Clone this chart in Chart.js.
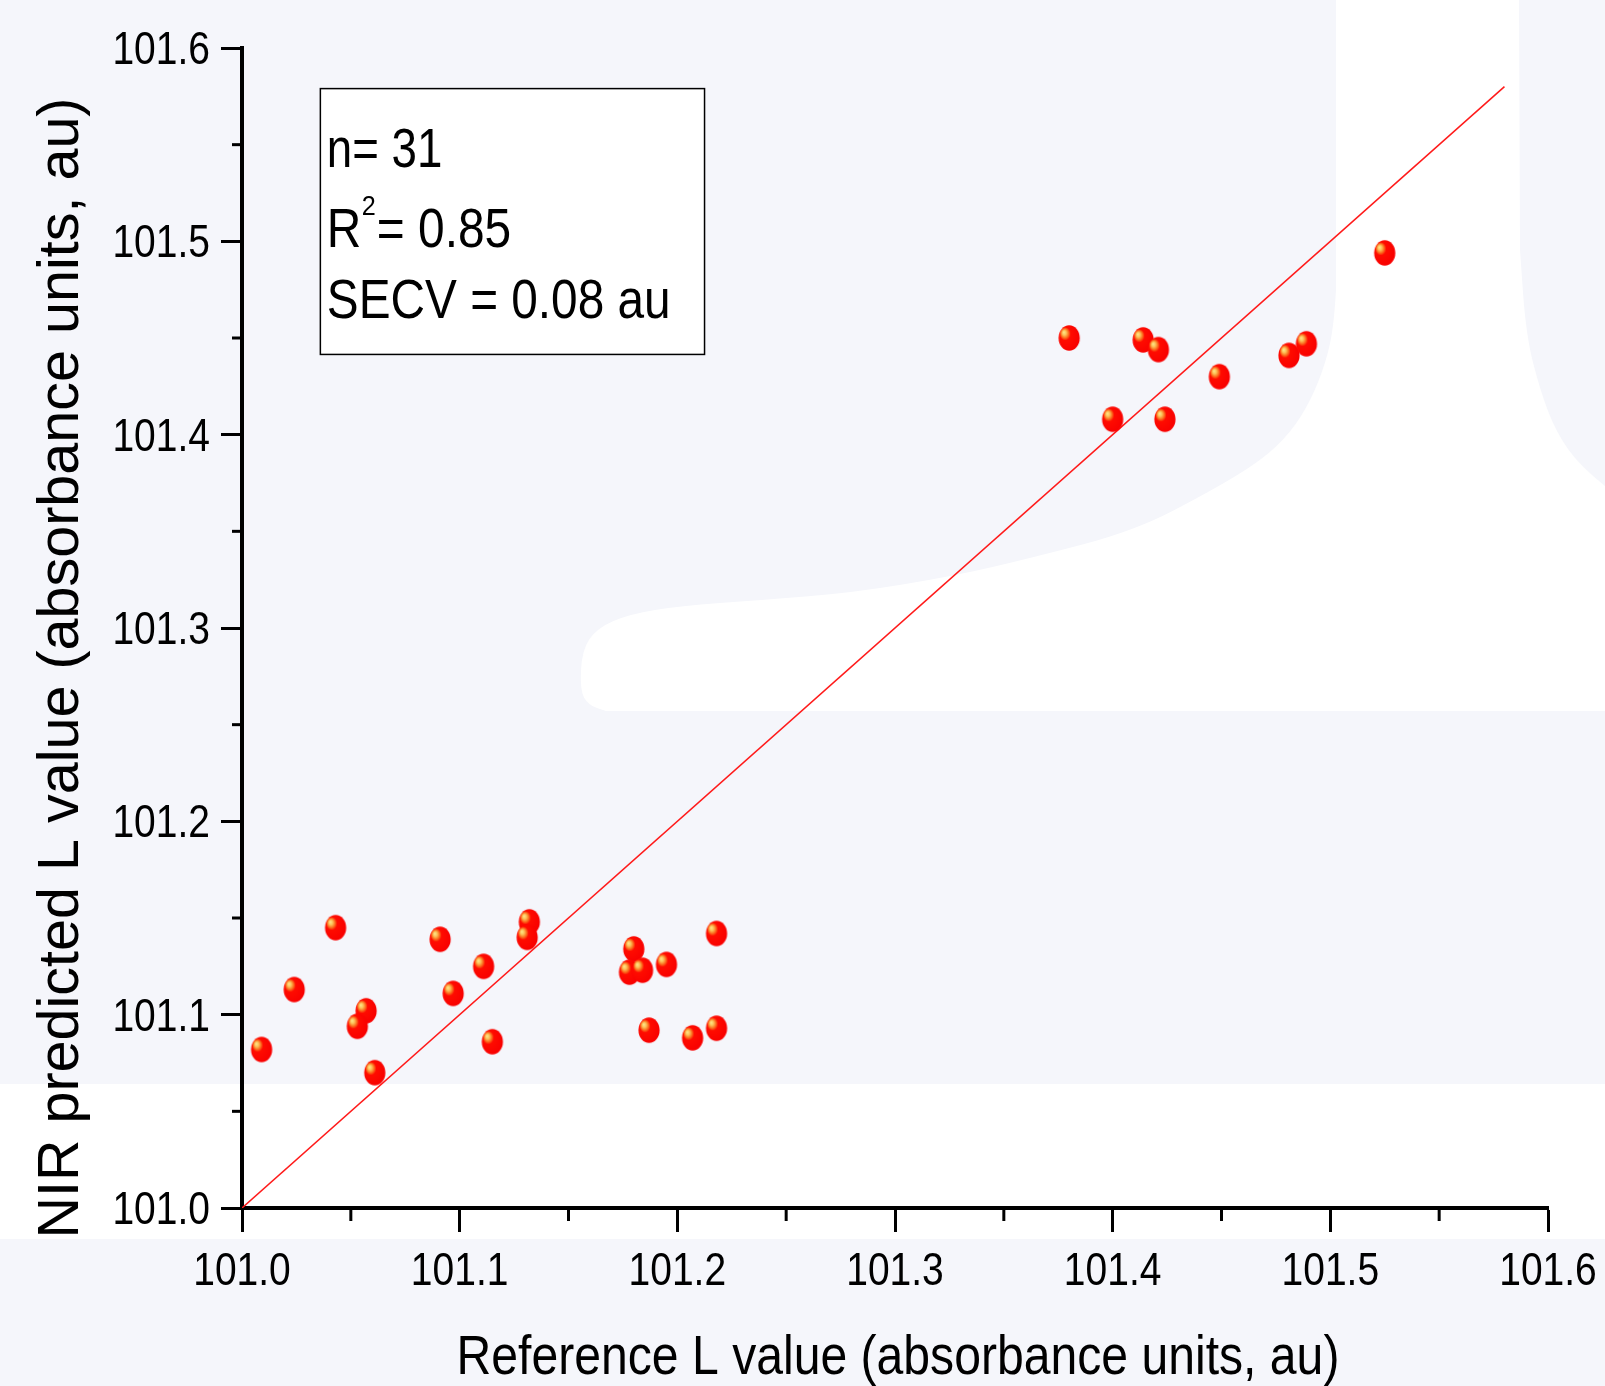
<!DOCTYPE html>
<html>
<head>
<meta charset="utf-8">
<script src="https://cdn.jsdelivr.net/npm/chart.js@4.4.1/dist/chart.umd.min.js"></script>
<style>
  html, body { margin: 0; padding: 0; background: #f5f6fb; }
</style>
</head>
<body>
<canvas id="plot" width="1605" height="1386"></canvas>
<script>
// values
const refValues = [101.009, 101.024, 101.043, 101.057, 101.053, 101.061, 101.091, 101.097, 101.111, 101.115,
                   101.132, 101.131, 101.180, 101.178, 101.184, 101.195, 101.218, 101.187, 101.207, 101.218,
                   101.380, 101.414, 101.421, 101.400, 101.424, 101.449, 101.481, 101.489, 101.525];
const nirValues = [101.082, 101.113, 101.145, 101.102, 101.094, 101.070, 101.139, 101.111, 101.125, 101.086,
                   101.148, 101.140, 101.134, 101.122, 101.123, 101.126, 101.142, 101.092, 101.088, 101.093,
                   101.450, 101.449, 101.444, 101.408, 101.408, 101.430, 101.441, 101.447, 101.494];
const lineEnds = [101.0, 101.58];
const axisMin = 101.0, axisMax = 101.6;
const minorTicks = [101.05, 101.15, 101.25, 101.35, 101.45, 101.55];
const statLines = ['n= 31', 'R', '2', '= 0.85', 'SECV = 0.08 au'];
const xTitle = 'Reference L value (absorbance units, au)';
const yTitle = 'NIR predicted L value (absorbance units, au)';

const sans = "'Liberation Sans', Arial, sans-serif";
const lavender = '#f5f6fb';

// red glass bead used as the marker
function makeBead() {
  const c = document.createElement('canvas');
  c.width = 24; c.height = 28;
  const g = c.getContext('2d');
  const rx = 10.6, ry = 12.8;
  g.translate(12, 14);
  g.scale(1, ry / rx);
  const grad = g.createRadialGradient(-5.4, -4.8, 0, -2, -1.5, rx + 2.5);
  grad.addColorStop(0, '#ffe88e');
  grad.addColorStop(0.15, '#fcc35a');
  grad.addColorStop(0.3, '#fb6a1c');
  grad.addColorStop(0.42, '#ff0c00');
  grad.addColorStop(1, '#f80000');
  g.fillStyle = grad;
  g.beginPath();
  g.arc(0, 0, rx, 0, Math.PI * 2);
  g.fill();
  return c;
}

// squeezed text, the original lettering is narrow
function squeezed(ctx, str, x, y, size, sx, align) {
  ctx.save();
  ctx.font = size + 'px ' + sans;
  ctx.textAlign = align || 'left';
  ctx.textBaseline = 'alphabetic';
  ctx.translate(x, y);
  ctx.scale(sx, 1);
  ctx.fillText(str, 0, 0);
  ctx.restore();
}

function smoothTo(ctx, pts) {
  for (let i = 1; i < pts.length - 1; i++) {
    const mx = (pts[i][0] + pts[i + 1][0]) / 2, my = (pts[i][1] + pts[i + 1][1]) / 2;
    ctx.quadraticCurveTo(pts[i][0], pts[i][1], mx, my);
  }
  const last = pts[pts.length - 1];
  ctx.lineTo(last[0], last[1]);
}

// soft lavender backdrop with the white areas behind the plot
const backdrop = {
  id: 'backdrop',
  beforeDraw(chart) {
    const ctx = chart.ctx;
    const w = chart.width;
    ctx.save();
    ctx.fillStyle = lavender;
    ctx.fillRect(0, 0, w, chart.height);
    ctx.fillStyle = '#ffffff';
    ctx.fillRect(0, 1084, w, 155);
    const leftEdge = [[1336, 290], [1334, 325], [1326, 362], [1311, 400], [1291, 432], [1262, 460], [1211, 491],
      [1134, 531], [1031, 558], [954, 576], [851, 593], [760, 600], [680, 606], [630, 614], [597, 628],
      [582, 650], [580, 690], [588, 705], [606, 711]];
    const rightEdge = [[w, 486], [1580, 466], [1556, 432], [1540, 390], [1526, 335], [1520, 250]];
    ctx.beginPath();
    ctx.moveTo(1336, 0);
    ctx.lineTo(1336, 290);
    smoothTo(ctx, leftEdge);
    ctx.lineTo(w, 711);
    ctx.lineTo(w, 486);
    smoothTo(ctx, rightEdge);
    ctx.lineTo(1519, 0);
    ctx.closePath();
    ctx.fill();
    ctx.restore();
  }
};

// tick labels, minor ticks, stats box and axis titles
const extras = {
  id: 'extras',
  afterDraw(chart) {
    const ctx = chart.ctx;
    const xs = chart.scales.x, ys = chart.scales.y;
    const area = chart.chartArea;
    ctx.save();
    ctx.strokeStyle = '#000';
    ctx.fillStyle = '#000';
    ctx.lineWidth = 3;
    minorTicks.forEach(v => {
      const px = xs.getPixelForValue(v);
      ctx.beginPath(); ctx.moveTo(px, area.bottom); ctx.lineTo(px, area.bottom + 13); ctx.stroke();
      const py = ys.getPixelForValue(v);
      ctx.beginPath(); ctx.moveTo(area.left, py); ctx.lineTo(area.left - 10, py); ctx.stroke();
    });

    xs.ticks.forEach(t => {
      squeezed(ctx, Number(t.value).toFixed(1), xs.getPixelForValue(t.value), area.bottom + 77, 46, 0.848, 'center');
    });
    ys.ticks.forEach(t => {
      squeezed(ctx, Number(t.value).toFixed(1), area.left - 32, ys.getPixelForValue(t.value) + 16, 46, 0.848, 'right');
    });

    // stats box
    const bx0 = xs.getPixelForValue(101.036), bx1 = xs.getPixelForValue(101.2125);
    const by0 = ys.getPixelForValue(101.579), by1 = ys.getPixelForValue(101.4415);
    ctx.fillStyle = '#ffffff';
    ctx.fillRect(bx0, by0, bx1 - bx0, by1 - by0);
    ctx.lineWidth = 1.5;
    ctx.strokeRect(bx0, by0, bx1 - bx0, by1 - by0);
    ctx.fillStyle = '#000';
    const tx = bx0 + 6.5;
    squeezed(ctx, statLines[0], tx, by0 + 78, 55, 0.83);
    squeezed(ctx, statLines[1], tx, by0 + 158, 55, 0.87);
    squeezed(ctx, statLines[2], tx + 35, by0 + 126, 28, 0.9);
    squeezed(ctx, statLines[3], tx + 50, by0 + 158, 55, 0.87);
    squeezed(ctx, statLines[4], tx, by0 + 229.5, 55, 0.868);

    // axis titles
    squeezed(ctx, xTitle, (area.left + area.right) / 2 + 3, 1374, 55, 0.875, 'center');
    ctx.font = '57.5px ' + sans;
    ctx.textAlign = 'center';
    ctx.textBaseline = 'alphabetic';
    ctx.translate(78, 668);
    ctx.rotate(-Math.PI / 2);
    ctx.fillText(yTitle, 0, 0);
    ctx.restore();
  }
};

new Chart(document.getElementById('plot'), {
  type: 'scatter',
  data: {
    datasets: [
      {
        label: 'samples',
        data: refValues.map((x, i) => ({ x: x, y: nirValues[i] })),
        pointStyle: makeBead(),
        pointRadius: 11,
        order: 0
      },
      {
        label: 'target',
        data: lineEnds.map(v => ({ x: v, y: v })),
        showLine: true,
        borderColor: '#ff1a1a',
        borderWidth: 1.5,
        pointRadius: 0,
        order: 1
      }
    ]
  },
  options: {
    responsive: false,
    animation: false,
    layout: { padding: { top: 48, right: 57, left: 0, bottom: 0 } },
    plugins: { legend: { display: false }, tooltip: { enabled: false } },
    scales: {
      x: {
        type: 'linear',
        min: axisMin,
        max: axisMax,
        border: { display: true, color: '#000', width: 4 },
        grid: { drawOnChartArea: false, drawTicks: true, tickLength: 24, tickWidth: 3, tickColor: '#000' },
        ticks: { stepSize: 0.1, display: false },
        afterFit(scale) { scale.height = 178; }
      },
      y: {
        type: 'linear',
        min: axisMin,
        max: axisMax,
        border: { display: true, color: '#000', width: 4 },
        grid: { drawOnChartArea: false, drawTicks: true, tickLength: 21, tickWidth: 3, tickColor: '#000' },
        ticks: { stepSize: 0.1, display: false },
        afterFit(scale) { scale.width = 242; }
      }
    }
  },
  plugins: [backdrop, extras]
});
</script>
</body>
</html>
